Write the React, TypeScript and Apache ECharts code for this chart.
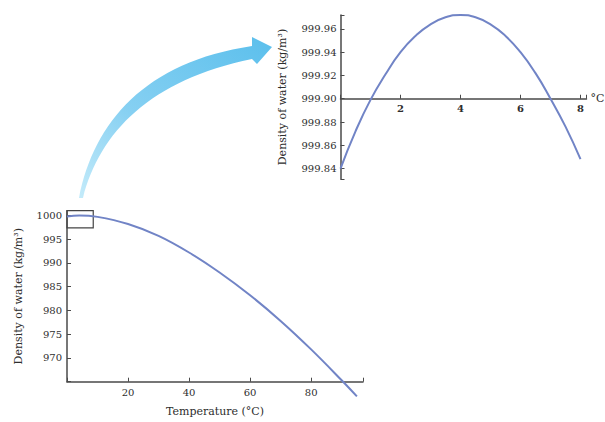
import React, { useEffect, useRef } from "react";
import * as echarts from "echarts";

// ---- Data ----
const mainTemps = [0, 4, 10, 20, 30, 40, 50, 60, 70, 80, 90, 95];
const mainDensity = [999.8, 1000.0, 999.7, 998.2, 995.7, 992.2, 988.0, 983.2, 977.8, 971.8, 965.3, 961.9];
const insetTemps = [0, 0.5, 1, 1.5, 2, 2.5, 3, 3.5, 4, 4.5, 5, 5.5, 6, 6.5, 7, 7.5, 8];
const insetDensity = [
  999.84, 999.872, 999.899, 999.921, 999.94, 999.954, 999.964, 999.97, 999.972,
  999.97, 999.964, 999.954, 999.94, 999.922, 999.9, 999.876, 999.848,
];

const mainXTickLabels = ["20", "40", "60", "80"];
const mainYTickLabels = ["970", "975", "980", "985", "990", "995", "1000"];
const insetXTickLabels = ["2", "4", "6", "8"];
const insetYTickLabels = ["999.84", "999.86", "999.88", "999.90", "999.92", "999.94", "999.96"];

const insetCross = 999.9; // the inset's temperature axis crosses here
const insetYMin = 999.831;
const insetYMax = 999.972;
const zoomBoxT = [0, 8.6];
const zoomBoxD = [997.4, 1001];

const FONT = "DejaVu Serif";
const TEXT = "#2e2e2e";
const AXIS = "#4a4a4a";
const CURVE = "#7184c6";

const INSET_H = 164;

const arrowPath =
  "M83 198 C100 132 150 80 252 59 L257 64 L272 47 L252 37 L252 46 C145 62 94 122 79 198 Z";
echarts.graphic.registerShape("bigArrow", echarts.graphic.extendPath(arrowPath, {}));

export default function App() {
  const ref = useRef<HTMLDivElement>(null);
  useEffect(() => {
    if (!ref.current) return;
    const chart = echarts.init(ref.current, null, { renderer: "svg" });
    const axisCommon = {
      axisLine: { show: true, onZero: false, lineStyle: { color: AXIS, width: 1.5 } },
      axisTick: { show: true, inside: true, length: 4, lineStyle: { color: AXIS, width: 1 } },
      splitLine: { show: false },
      nameTextStyle: { color: TEXT, fontFamily: FONT, fontSize: 11 },
    };
    const labelStyle = { color: TEXT, fontFamily: FONT, fontSize: 10 };
    // distance from the inset's bottom edge up to the crossing value
    const crossOffset = -((insetCross - insetYMin) / (insetYMax - insetYMin)) * INSET_H;
    chart.setOption({
      animation: false,
      backgroundColor: "#ffffff",
      grid: [
        { left: 67, top: 210.7, width: 296, height: 171, outerBoundsMode: "none", containLabel: false },
        { left: 340.5, top: 15, width: 246, height: INSET_H, outerBoundsMode: "none", containLabel: false },
      ],
      xAxis: [
        {
          ...axisCommon,
          type: "value",
          gridIndex: 0,
          min: 0,
          max: 97,
          interval: 20,
          name: "Temperature (°C)",
          nameLocation: "middle",
          nameGap: 24,
          axisLabel: {
            ...labelStyle,
            margin: 6,
            formatter: (v: number) => (mainXTickLabels.includes(String(v)) ? String(v) : ""),
          },
        },
        {
          ...axisCommon,
          type: "value",
          gridIndex: 1,
          position: "bottom",
          offset: crossOffset,
          min: 0,
          max: 8.2,
          interval: 2,
          name: "°C",
          nameLocation: "end",
          nameGap: 4,
          nameTextStyle: { color: TEXT, fontFamily: FONT, fontSize: 11, verticalAlign: "middle" },
          axisLabel: {
            ...labelStyle,
            margin: 5,
            fontWeight: "bold",
            formatter: (v: number) => (insetXTickLabels.includes(String(v)) ? String(v) : ""),
          },
        },
      ],
      yAxis: [
        {
          ...axisCommon,
          type: "value",
          gridIndex: 0,
          min: 965,
          max: 1001,
          interval: 5,
          name: "Density of water (kg/m³)",
          nameLocation: "middle",
          nameGap: 43,
          axisLabel: {
            ...labelStyle,
            margin: 5,
            formatter: (v: number) => (mainYTickLabels.includes(String(v)) ? String(v) : ""),
          },
        },
        {
          ...axisCommon,
          type: "value",
          gridIndex: 1,
          min: insetYMin,
          max: insetYMax,
          splitNumber: 7,
          name: "Density of water (kg/m³)",
          nameLocation: "middle",
          nameGap: 53,
          axisLabel: {
            ...labelStyle,
            margin: 4,
            formatter: (v: number) => {
              const s = v.toFixed(2);
              return insetYTickLabels.includes(s) && Math.abs(v - Number(s)) < 1e-6 ? s : "";
            },
          },
        },
      ],
      series: [
        {
          type: "line",
          xAxisIndex: 0,
          yAxisIndex: 0,
          data: mainTemps.map((t, i) => [t, mainDensity[i]]),
          smooth: 0.4,
          symbol: "none",
          clip: false,
          lineStyle: { color: CURVE, width: 2 },
          markArea: {
            silent: true,
            itemStyle: { color: "rgba(0,0,0,0)", borderColor: "#444", borderWidth: 1.2 },
            data: [[{ coord: [zoomBoxT[0], zoomBoxD[1]] }, { coord: [zoomBoxT[1], zoomBoxD[0]] }]],
          },
        },
        {
          type: "line",
          xAxisIndex: 1,
          yAxisIndex: 1,
          data: insetTemps.map((t, i) => [t, insetDensity[i]]),
          smooth: 0.5,
          symbol: "none",
          lineStyle: { color: CURVE, width: 2 },
        },
      ],
      graphic: [
        {
          type: "bigArrow",
          x: 0,
          y: 0,
          silent: true,
          style: {
            fill: {
              type: "linear",
              x: 0,
              y: 1,
              x2: 1,
              y2: 0,
              colorStops: [
                { offset: 0, color: "#c4ebfa" },
                { offset: 0.4, color: "#86d0f2" },
                { offset: 1, color: "#5bbfec" },
              ],
            },
          },
        },
      ],
    });
    return () => chart.dispose();
  }, []);
  return (
    <div
      ref={ref}
      style={{ position: "fixed", left: 0, top: 0, width: 605, height: 422, background: "#fff" }}
    />
  );
}
